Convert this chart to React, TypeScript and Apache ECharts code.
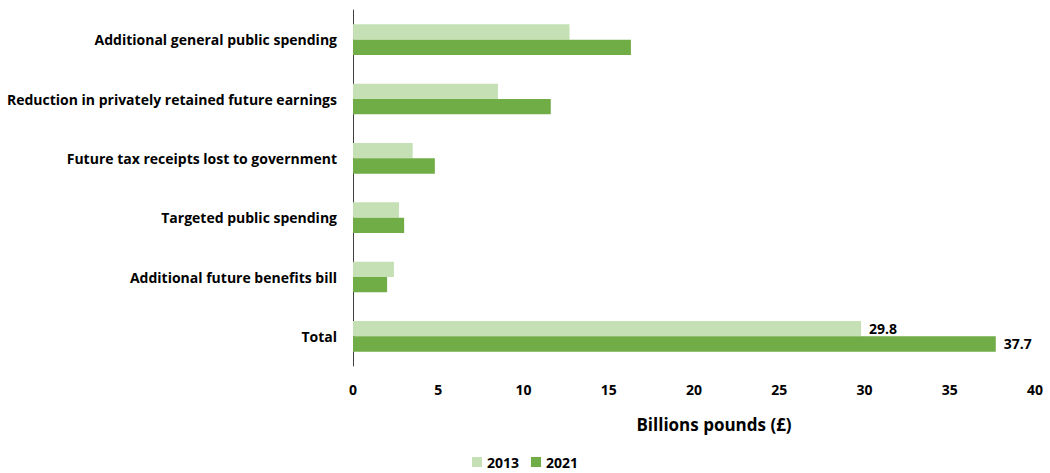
import React, { useEffect, useRef } from "react";
import * as echarts from "echarts";

const categories = [
  "Additional general public spending",
  "Reduction in privately retained future earnings",
  "Future tax receipts lost to government",
  "Targeted public spending",
  "Additional future benefits bill",
  "Total",
];
const values2013 = [12.7, 8.5, 3.5, 2.7, 2.4, 29.8];
const values2021 = [16.3, 11.6, 4.8, 3.0, 2.0, 37.7];
const seriesNames = ["2013", "2021"];
const xTicks = { min: 0, max: 40, interval: 5 };
const axisTitle = "Billions pounds (£)";

const FONT = "'Open Sans', Lato, sans-serif";

export default function App() {
  const ref = useRef<HTMLDivElement>(null);
  useEffect(() => {
    if (!ref.current) return;
    const chart = echarts.init(ref.current, undefined, { renderer: "svg" });
    const labelFor = (arr: number[]) =>
      arr.map((v, i) =>
        i === arr.length - 1
          ? {
              value: v,
              label: {
                show: true,
                position: "right",
                distance: 8,
                color: "#000",
                fontFamily: FONT,
                fontWeight: "bold",
                fontSize: 14,
                formatter: (p: any) => p.value.toFixed(1),
              },
            }
          : v
      );
    chart.setOption({
      animation: false,
      textStyle: { fontFamily: FONT },
      grid: { left: 353, right: 15, top: 10, height: 356, containLabel: false },
      legend: {
        top: 455,
        left: "center",
        padding: 0,
        itemWidth: 10,
        itemHeight: 10,
        itemGap: 12,
        icon: "rect",
        textStyle: { fontFamily: FONT, fontWeight: "bold", fontSize: 14, color: "#000" },
        data: seriesNames,
      },
      xAxis: {
        type: "value",
        min: xTicks.min,
        max: xTicks.max,
        interval: xTicks.interval,
        axisLine: { show: false },
        axisTick: { show: false },
        splitLine: { show: false },
        axisLabel: {
          margin: 16,
          color: "#000",
          fontFamily: FONT,
          fontWeight: "bold",
          fontSize: 14,
        },
        name: axisTitle,
        nameLocation: "middle",
        nameGap: 50,
        nameTextStyle: {
          color: "#000",
          fontFamily: FONT,
          fontWeight: "bold",
          fontSize: 17,
          padding: [0, 0, 0, 40],
        },
      },
      yAxis: {
        type: "category",
        inverse: true,
        data: categories,
        axisLine: { show: true, lineStyle: { color: "#404040", width: 1 } },
        axisTick: { show: false },
        axisLabel: {
          margin: 16,
          color: "#000",
          fontFamily: FONT,
          fontWeight: "bold",
          fontSize: 14,
        },
      },
      series: [
        {
          name: seriesNames[0],
          type: "bar",
          data: labelFor(values2013),
          barWidth: 15.3,
          barGap: "0%",
          itemStyle: { color: "#C5E0B4" },
        },
        {
          name: seriesNames[1],
          type: "bar",
          data: labelFor(values2021),
          barWidth: 15.3,
          barGap: "0%",
          itemStyle: { color: "#70AD47" },
        },
      ],
    });
    return () => chart.dispose();
  }, []);
  return (
    <div
      ref={ref}
      style={{ position: "absolute", left: 0, top: 0, width: 1050, height: 473 }}
    />
  );
}
